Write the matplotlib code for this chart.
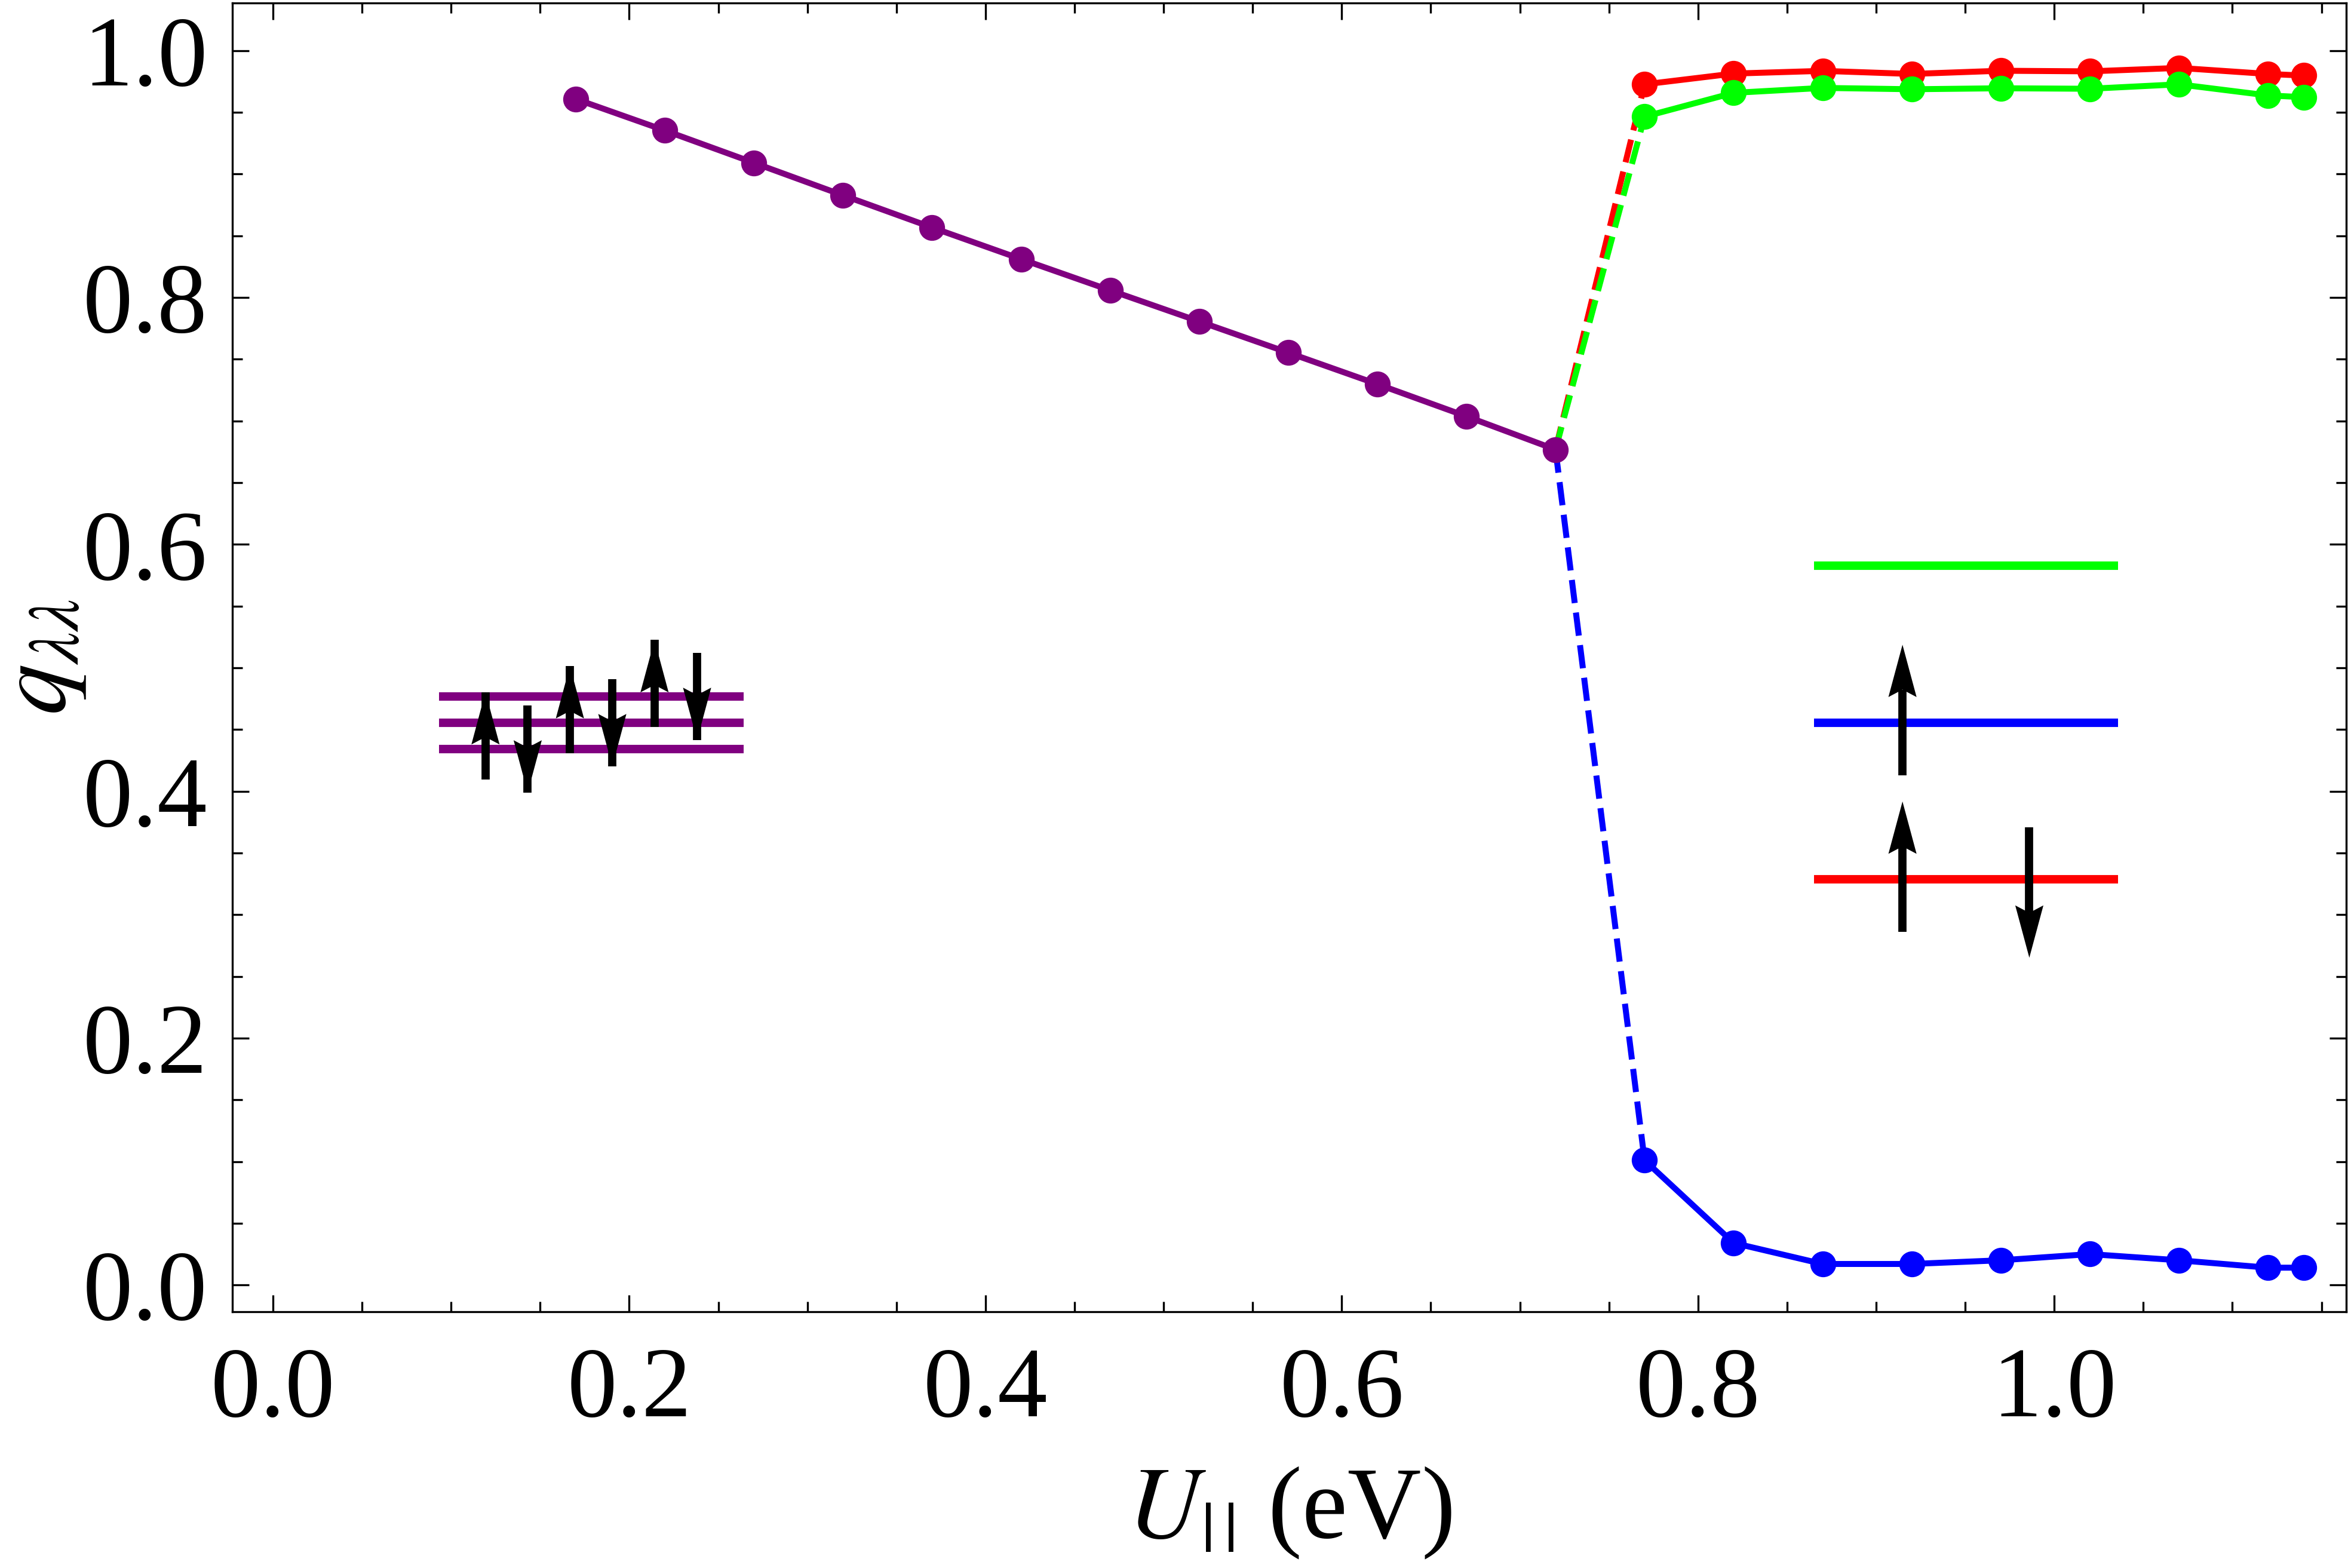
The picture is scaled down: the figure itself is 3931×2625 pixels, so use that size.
import numpy as np
import matplotlib
matplotlib.use("Agg")
import matplotlib.pyplot as plt
from matplotlib.ticker import MultipleLocator, FormatStrFormatter

plt.rcParams['font.family'] = ['Liberation Serif', 'DejaVu Serif']
plt.rcParams['mathtext.fontset'] = 'stix'

# data
u_purple = [0.17, 0.22, 0.27, 0.32, 0.37, 0.42, 0.47, 0.52, 0.57, 0.62, 0.67, 0.72]
q_purple = [0.9608, 0.9353, 0.9091, 0.8828, 0.8567, 0.8311, 0.8058, 0.7806,
            0.7553, 0.7298, 0.7037, 0.6768]

u_split = [0.77, 0.82, 0.87, 0.92, 0.97, 1.02, 1.07, 1.12, 1.14]
q_red = [0.9727, 0.9814, 0.9836, 0.9811, 0.9837, 0.9832, 0.9860, 0.9811, 0.9798]
q_green = [0.9465, 0.9658, 0.9698, 0.9687, 0.9695, 0.9691, 0.9727, 0.9637, 0.9623]
q_blue = [0.101, 0.034, 0.017, 0.017, 0.020, 0.025, 0.020, 0.014, 0.014]

# inset sketches (orbital levels with spins), in data units
left_levels = [0.4768, 0.4555, 0.4344]
left_span = (0.0932, 0.2642)
left_arrows_x = [0.1193, 0.1430, 0.1667, 0.1905, 0.2142, 0.2381]
left_arrows_tail = [0.4096, 0.4696, 0.4308, 0.4908, 0.4519, 0.5121]
left_arrows_tip = [0.4803, 0.3989, 0.5014, 0.4202, 0.5225, 0.4415]

right_levels = [0.5829, 0.4556, 0.3285]
right_colors = ['#00FF00', '#0000FF', '#FF0000']
right_span = (0.8650, 1.0359)
right_arrows_x = [0.9148, 0.9148, 0.9860]
right_arrows_tail = [0.4131, 0.2861, 0.3707]
right_arrows_tip = [0.5187, 0.3917, 0.2651]

PURPLE = '#800080'
RED = '#FF0000'
GREEN = '#00FF00'
BLUE = '#0000FF'

fig = plt.figure(figsize=(3931 / 300, 2625 / 300), dpi=300)
ax = fig.add_axes([0.09896, 0.16343, 0.90028, 0.83467])

lw = 2.4
ms = 9.4
dash = (3.9, 1.6)

# dashed jumps from last purple point
for q_end, c in [(q_red[0], RED), (q_green[0], GREEN), (q_blue[0], BLUE)]:
    ax.plot([u_purple[-1], u_split[0]], [q_purple[-1], q_end], color=c, lw=lw,
            dashes=dash, zorder=2)

ax.plot(u_purple, q_purple, '-o', color=PURPLE, lw=lw, ms=ms, zorder=3)
ax.plot(u_split, q_red, '-o', color=RED, lw=lw, ms=ms, zorder=3)
ax.plot(u_split, q_green, '-o', color=GREEN, lw=lw, ms=ms, zorder=3)
ax.plot(u_split, q_blue, '-o', color=BLUE, lw=lw, ms=ms, zorder=3)

HEAD_LEN = 0.0424
HEAD_W = 0.0158
NOTCH = 0.006


def spin_arrow(x, y0, y1, full_shaft):
    d = 1 if y1 > y0 else -1
    base = y1 - d * HEAD_LEN
    shaft_end = y1 if full_shaft else base + d * NOTCH
    ax.plot([x, x], [y0, shaft_end], color='black', lw=3.3,
            solid_capstyle='butt', zorder=5)
    ax.fill([x - HEAD_W / 2, x, x + HEAD_W / 2, x],
            [base, y1, base, base + d * NOTCH], color='black', lw=0, zorder=5)


for y in left_levels:
    ax.plot(left_span, [y, y], color=PURPLE, lw=3.4, solid_capstyle='butt', zorder=4)
for x, y0, y1 in zip(left_arrows_x, left_arrows_tail, left_arrows_tip):
    spin_arrow(x, y0, y1, True)

for y, c in zip(right_levels, right_colors):
    ax.plot(right_span, [y, y], color=c, lw=3.4, solid_capstyle='butt', zorder=4)
for x, y0, y1 in zip(right_arrows_x, right_arrows_tail, right_arrows_tip):
    spin_arrow(x, y0, y1, False)

ax.set_xlim(-0.0228, 1.1639)
ax.set_ylim(-0.0217, 1.0386)

ax.xaxis.set_major_locator(MultipleLocator(0.2))
ax.xaxis.set_minor_locator(MultipleLocator(0.05))
ax.yaxis.set_major_locator(MultipleLocator(0.2))
ax.yaxis.set_minor_locator(MultipleLocator(0.05))
ax.xaxis.set_major_formatter(FormatStrFormatter('%.1f'))
ax.yaxis.set_major_formatter(FormatStrFormatter('%.1f'))

ax.tick_params(which='both', direction='in', top=True, right=True, width=0.8,
               labelsize=40)
ax.tick_params(which='major', length=6.7)
ax.tick_params(which='minor', length=4)
ax.tick_params(axis='x', pad=14)
ax.tick_params(axis='y', pad=10)
for s in ax.spines.values():
    s.set_linewidth(0.8)

ax.set_xlabel(r'$U_{\mathrm{|\,|}}$ (eV)', fontsize=41, labelpad=11)
ax.set_ylabel(r'$q_{\lambda\lambda}$', fontsize=41, labelpad=-2)

fig.savefig('out.png', dpi=300)
